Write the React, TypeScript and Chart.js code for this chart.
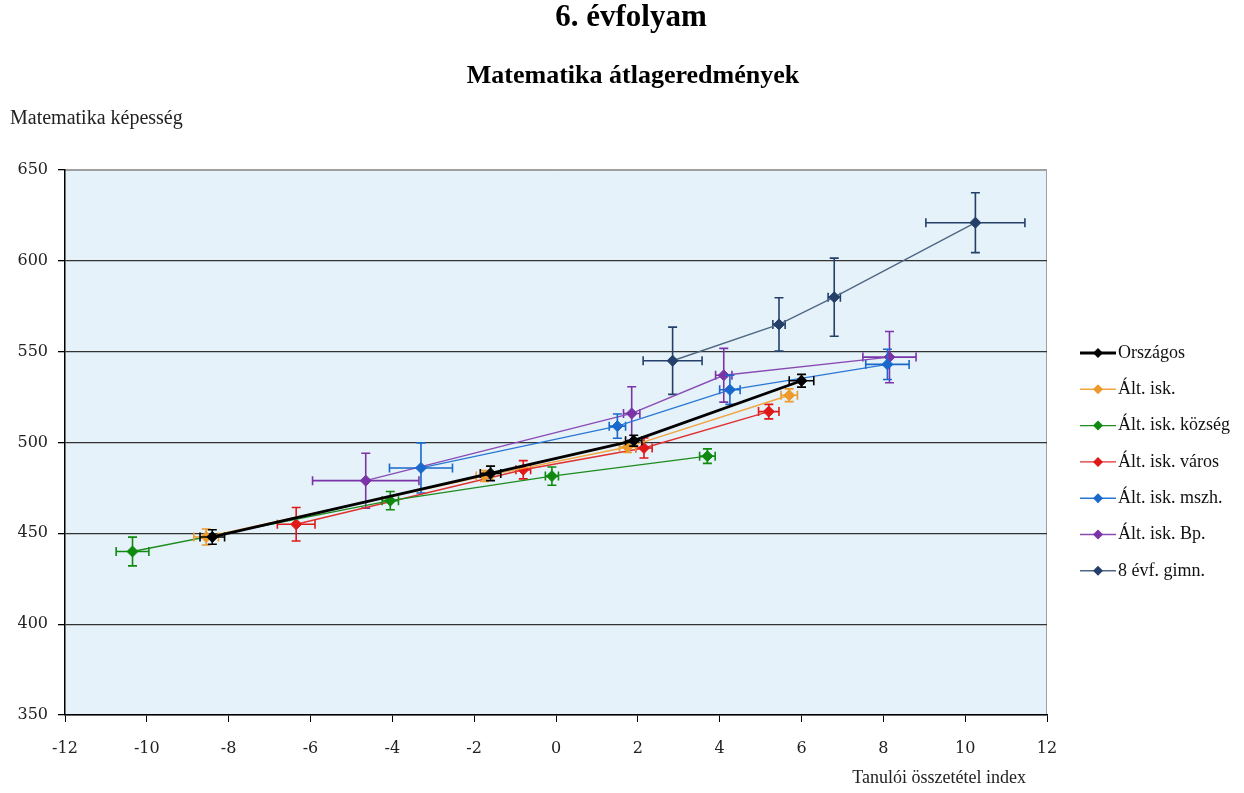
import { useEffect, useRef } from 'react';
import { Chart, registerables } from 'chart.js';

Chart.register(...registerables);

const chartTitle = '6. évfolyam';
const chartSubtitle = 'Matematika átlageredmények';
const yAxisTitle = 'Matematika képesség';
const xAxisTitle = 'Tanulói összetétel index';

const seriesNames = [
  'Országos',
  'Ált. isk.',
  'Ált. isk. község',
  'Ált. isk. város',
  'Ált. isk. mszh.',
  'Ált. isk. Bp.',
  '8 évf. gimn.',
];

// Országos
const orszX = [-8.4, -1.6, 1.9, 6.0];
const orszY = [448, 483, 501, 534];
const orszXErr = [0.3, 0.25, 0.2, 0.3];
const orszYErr = [4, 4, 3, 3.5];
// Ált. isk.
const altX = [-8.55, -1.75, 1.75, 5.7];
const altY = [448, 481.5, 497.5, 526];
const altXErr = [0.3, 0.2, 0.2, 0.2];
const altYErr = [4.4, 3, 3, 3.5];
// Ált. isk. község
const kozsX = [-10.35, -4.05, -0.1, 3.7];
const kozsY = [440, 468, 481.5, 492.5];
const kozsXErr = [0.4, 0.2, 0.16, 0.19];
const kozsYErr = [7.9, 5, 5, 4];
// Ált. isk. város
const varosX = [-6.35, -0.8, 2.15, 5.2];
const varosY = [455, 485, 497, 517];
const varosXErr = [0.46, 0.18, 0.2, 0.25];
const varosYErr = [9.2, 5, 5.5, 4];
// Ált. isk. mszh.
const mszhX = [-3.3, 1.5, 4.25, 8.1];
const mszhY = [486, 509, 529, 543];
const mszhXErr = [0.77, 0.2, 0.25, 0.53];
const mszhYErr = [13.8, 6.7, 8, 8.3];
// Ált. isk. Bp.
const bpX = [-4.65, 1.85, 4.1, 8.15];
const bpY = [479, 516, 537, 547];
const bpXErr = [1.3, 0.2, 0.2, 0.65];
const bpYErr = [15.1, 14.7, 14.8, 14.1];
// 8 évf. gimn.
const gimnX = [2.85, 5.45, 6.8, 10.25];
const gimnY = [545, 565, 580, 621];
const gimnXErr = [0.72, 0.15, 0.15, 1.21];
const gimnYErr = [18.5, 14.7, 21.5, 16.5];

const xTickMin = -12;
const xTickMax = 12;
const xTickStep = 2;
const yTickMin = 350;
const yTickMax = 650;
const yTickStep = 50;

const seriesXs = [orszX, altX, kozsX, varosX, mszhX, bpX, gimnX];
const seriesYs = [orszY, altY, kozsY, varosY, mszhY, bpY, gimnY];
const seriesXErrs = [orszXErr, altXErr, kozsXErr, varosXErr, mszhXErr, bpXErr, gimnXErr];
const seriesYErrs = [orszYErr, altYErr, kozsYErr, varosYErr, mszhYErr, bpYErr, gimnYErr];

const lineColors = ['#000000', '#F2A541', '#1E8C1E', '#E03030', '#2A78D6', '#8A4BB5', '#4F6785'];
const markerColors = ['#000000', '#EE9A2A', '#0F8A0F', '#E01818', '#1A68CC', '#7A34A8', '#24406A'];
const lineWidths = [2.8, 1.4, 1.4, 1.4, 1.4, 1.4, 1.4];

const SERIF = '"Liberation Serif", "Times New Roman", serif';
const TICKFONT = '"DejaVu Serif", serif';

const bgPlugin = {
  id: 'plotBg',
  beforeDraw(chart: any) {
    const { ctx, chartArea: a } = chart;
    ctx.save();
    ctx.fillStyle = '#FFFFFF';
    ctx.fillRect(0, 0, chart.width, chart.height);
    ctx.fillStyle = '#E5F2F9';
    ctx.fillRect(a.left, a.top, a.right - a.left, a.bottom - a.top);
    ctx.strokeStyle = '#A0A0A0';
    ctx.lineWidth = 1;
    ctx.beginPath();
    ctx.moveTo(a.left, a.top + 0.5);
    ctx.lineTo(a.right - 0.5, a.top + 0.5);
    ctx.lineTo(a.right - 0.5, a.bottom);
    ctx.stroke();
    ctx.restore();
  },
};

const errorBarPlugin = {
  id: 'errorBars',
  beforeDatasetDraw(chart: any, args: any) {
    const ds: any = chart.data.datasets[args.index];
    const xs = chart.scales.x;
    const ys = chart.scales.y;
    const ctx = chart.ctx;
    const cap = 4.5;
    ctx.save();
    ctx.strokeStyle = ds.errColor;
    ctx.lineWidth = 1.6;
    ds.data.forEach((p: any) => {
      const cx = xs.getPixelForValue(p.x);
      const cy = ys.getPixelForValue(p.y);
      const x0 = xs.getPixelForValue(p.x - p.xErr);
      const x1 = xs.getPixelForValue(p.x + p.xErr);
      const y0 = ys.getPixelForValue(p.y - p.yErr);
      const y1 = ys.getPixelForValue(p.y + p.yErr);
      ctx.beginPath();
      ctx.moveTo(x0, cy);
      ctx.lineTo(x1, cy);
      ctx.moveTo(x0, cy - cap);
      ctx.lineTo(x0, cy + cap);
      ctx.moveTo(x1, cy - cap);
      ctx.lineTo(x1, cy + cap);
      ctx.moveTo(cx, y0);
      ctx.lineTo(cx, y1);
      ctx.moveTo(cx - cap, y0);
      ctx.lineTo(cx + cap, y0);
      ctx.moveTo(cx - cap, y1);
      ctx.lineTo(cx + cap, y1);
      ctx.stroke();
    });
    ctx.restore();
  },
};

const textPlugin = {
  id: 'texts',
  afterDraw(chart: any) {
    const ctx = chart.ctx;
    ctx.save();
    ctx.fillStyle = '#000';
    ctx.textBaseline = 'middle';
    ctx.textAlign = 'center';
    ctx.font = `bold 31px ${SERIF}`;
    ctx.fillText(chartTitle, 631, 18);
    ctx.font = `bold 26px ${SERIF}`;
    ctx.fillText(chartSubtitle, 633, 76);
    ctx.textAlign = 'left';
    ctx.font = `20px ${SERIF}`;
    ctx.fillStyle = '#222';
    ctx.fillText(yAxisTitle, 10, 119);
    ctx.textAlign = 'right';
    ctx.font = `18px ${SERIF}`;
    ctx.fillText(xAxisTitle, 1026, 778);

    // legend
    const lx = 1080;
    const ly0 = 353;
    const step = 36.3;
    chart.data.datasets.forEach((ds: any, i: number) => {
      const y = ly0 + i * step;
      ctx.strokeStyle = ds.borderColor;
      ctx.lineWidth = ds.borderWidth;
      ctx.beginPath();
      ctx.moveTo(lx, y);
      ctx.lineTo(lx + 36, y);
      ctx.stroke();
      ctx.fillStyle = ds.pointBackgroundColor;
      ctx.beginPath();
      const r = 5;
      ctx.moveTo(lx + 18, y - r);
      ctx.lineTo(lx + 18 + r, y);
      ctx.lineTo(lx + 18, y + r);
      ctx.lineTo(lx + 18 - r, y);
      ctx.closePath();
      ctx.fill();
      ctx.fillStyle = '#111';
      ctx.textAlign = 'left';
      ctx.font = `18px ${SERIF}`;
      ctx.fillText(ds.label, lx + 38, y);
    });
    ctx.restore();
  },
};

export default function App() {
  const canvasRef = useRef<HTMLCanvasElement | null>(null);

  useEffect(() => {
    if (!canvasRef.current) return;
    const datasets = seriesNames.map((name, i) => ({
      label: name,
      data: seriesXs[i].map((x, j) => ({
        x,
        y: seriesYs[i][j],
        xErr: seriesXErrs[i][j],
        yErr: seriesYErrs[i][j],
      })),
      showLine: true,
      borderColor: lineColors[i],
      borderWidth: lineWidths[i],
      pointStyle: 'rectRot',
      pointRadius: 5.5,
      pointBackgroundColor: markerColors[i],
      pointBorderColor: markerColors[i],
      pointBorderWidth: 1,
      errColor: markerColors[i],
      tension: 0,
    }));

    const chart = new Chart(canvasRef.current, {
      type: 'scatter',
      data: { datasets: datasets as any },
      plugins: [bgPlugin, errorBarPlugin, textPlugin],
      options: {
        animation: false,
        responsive: true,
        maintainAspectRatio: false,
        layout: { padding: { top: 170, left: 0, right: 197, bottom: 0 } },
        plugins: {
          legend: { display: false },
          title: { display: false },
          tooltip: { enabled: false },
        },
        scales: {
          x: {
            type: 'linear',
            min: xTickMin,
            max: xTickMax,
            ticks: {
              stepSize: xTickStep,
              color: '#222',
              font: { family: TICKFONT, size: 16 },
              padding: 17,
            },
            grid: {
              drawOnChartArea: false,
              drawTicks: true,
              tickLength: 7,
              tickColor: '#000',
            },
            border: { color: '#000', width: 1.5 },
            afterFit: (scale: any) => {
              scale.height = 78;
            },
          },
          y: {
            type: 'linear',
            min: yTickMin,
            max: yTickMax,
            ticks: {
              stepSize: yTickStep,
              color: '#222',
              font: { family: TICKFONT, size: 16 },
              padding: 10,
            },
            grid: {
              color: (c: any) => (c.tick && c.tick.value === yTickMax ? '#A0A0A0' : '#333333'),
              lineWidth: 1.3,
              tickLength: 7,
              tickColor: '#000',
            },
            border: { color: '#000', width: 1.5 },
            afterFit: (scale: any) => {
              scale.width = 65;
            },
          },
        },
      },
    });
    return () => chart.destroy();
  }, []);

  return (
    <div style={{ position: 'fixed', left: 0, top: 0, width: 1244, height: 793, background: '#fff' }}>
      <canvas ref={canvasRef} />
    </div>
  );
}
